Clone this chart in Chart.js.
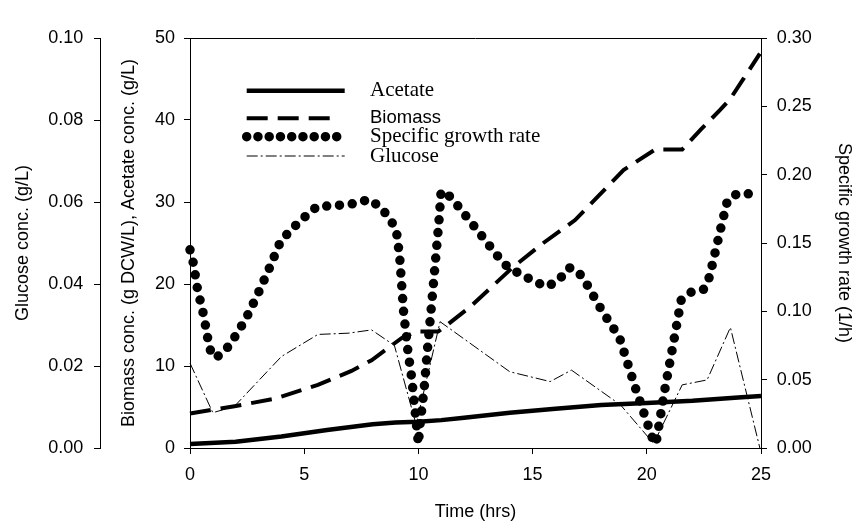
<!DOCTYPE html>
<html>
<head>
<meta charset="utf-8">
<script src="https://cdn.jsdelivr.net/npm/chart.js@4.4.1/dist/chart.umd.min.js"></script>
<style>
  html, body { margin: 0; padding: 0; background: #fff; }
  #wrap { width: 855px; height: 523px; }
</style>
</head>
<body>
<div id="wrap"><canvas id="chart" width="855" height="523"></canvas></div>
<script>
// Values (time in hours)
const acetateTime = [0, 2, 4, 6, 8, 9, 10, 11, 12, 14, 16, 18, 20, 22, 24, 25];
const acetateConc = [0.5, 0.75, 1.4, 2.2, 2.9, 3.1, 3.2, 3.4, 3.7, 4.3, 4.8, 5.25, 5.5, 5.75, 6.15, 6.35];

const biomassTime = [0, 0.85, 1.95, 3.7, 5.6, 7.07, 7.95, 9.26, 9.92, 10.86, 11.25, 12.26, 14.16, 15.47, 16.86, 17.8, 18.98, 20.37, 21.55, 22.35, 23.2, 23.66, 24.25, 24.95];
const biomassConc = [4.2, 4.6, 5.1, 6.0, 7.7, 9.4, 10.7, 13.4, 14.2, 14.2, 15.0, 17.2, 22.1, 25.0, 27.8, 30.5, 33.9, 36.4, 36.4, 38.8, 41.2, 42.6, 45.1, 48.1];

const growthTime = [0, 0.15, 0.33, 0.6, 0.8, 0.93, 1.15, 1.73, 2.43, 2.98, 3.46, 3.96, 4.44, 5.02, 5.58, 6.15, 7.29, 7.83, 8.36, 8.82, 9.05, 9.18, 9.35, 9.54, 9.7, 9.85, 10.0, 10.06, 10.25, 10.39, 10.55, 10.7, 10.8, 10.9, 10.99, 11.16, 11.64, 12.55, 13.44, 13.93, 14.5, 15.07, 15.6, 16.1, 16.6, 17.0, 17.4, 18.05, 18.8, 19.5, 20.29, 20.4, 20.77, 21.2, 21.5, 21.94, 22.48, 22.74, 23.27, 23.53, 23.95, 24.54];
const growthRate = [0.145, 0.135, 0.116, 0.097, 0.078, 0.069, 0.066, 0.075, 0.094, 0.113, 0.131, 0.151, 0.160, 0.169, 0.177, 0.177, 0.179, 0.182, 0.176, 0.166, 0.157, 0.140, 0.100, 0.071, 0.052, 0.028, 0.003, 0.0156, 0.043, 0.071, 0.100, 0.128, 0.147, 0.166, 0.187, 0.188, 0.179, 0.160, 0.141, 0.132, 0.127, 0.122, 0.118, 0.122, 0.132, 0.129, 0.119, 0.100, 0.081, 0.044, 0.005, 0.003, 0.041, 0.080, 0.108, 0.114, 0.116, 0.125, 0.163, 0.181, 0.186, 0.186];

const glucoseTime = [0, 1.0, 1.95, 4.0, 5.6, 6.92, 7.95, 8.95, 9.9, 10.95, 14.0, 15.77, 16.7, 18.85, 20.3, 21.55, 22.64, 23.66, 24.95];
const glucoseConc = [0.0207, 0.0086, 0.0102, 0.0223, 0.0277, 0.028, 0.0288, 0.025, 0.0057, 0.0308, 0.0186, 0.0162, 0.019, 0.0105, 0.0011, 0.0154, 0.0166, 0.0294, 0];

const xTicks = [0, 5, 10, 15, 20, 25];

const pts = (xs, ys) => xs.map((x, i) => ({ x: x, y: ys[i] }));

const sans = '"Liberation Sans", Arial, sans-serif';
const serif = '"Liberation Serif", "Times New Roman", serif';
const tickFont = { family: sans, size: 18 };
const titleFont = { family: sans, size: 18, lineHeight: 0.8 };

// legend drawn inside the plot, rows spaced like the original
const legendPlugin = {
    id: 'sketchLegend',
    afterDatasetsDraw(chart, args, opts) {
        const { ctx, chartArea } = chart;
        const x0 = chartArea.left + opts.left;
        opts.rows.forEach(row => {
            const ds = chart.data.datasets[row.index];
            const y = chartArea.top + row.top;
            ctx.save();
            ctx.strokeStyle = ds.borderColor;
            ctx.lineWidth = ds.borderWidth;
            ctx.lineCap = ds.borderCapStyle || 'butt';
            ctx.setLineDash(row.dash || ds.borderDash || []);
            ctx.beginPath();
            ctx.moveTo(x0, y);
            ctx.lineTo(x0 + row.length, y);
            ctx.stroke();
            ctx.setLineDash([]);
            ctx.fillStyle = '#000';
            ctx.font = row.font;
            ctx.textBaseline = 'middle';
            ctx.fillText(ds.label, chartArea.left + opts.textLeft, y);
            ctx.restore();
        });
    }
};

// top edge of the plot frame
const framePlugin = {
    id: 'topFrame',
    afterDraw(chart) {
        const { ctx, chartArea } = chart;
        ctx.save();
        ctx.strokeStyle = '#000';
        ctx.lineWidth = 1;
        ctx.beginPath();
        ctx.moveTo(chartArea.left, chartArea.top + 0.5);
        ctx.lineTo(chartArea.right, chartArea.top + 0.5);
        ctx.stroke();
        ctx.restore();
    }
};

const axisGrid = { drawOnChartArea: false, drawTicks: true, tickLength: 6, color: '#000' };
const axisBorder = { display: true, color: '#000', width: 1 };

new Chart(document.getElementById('chart'), {
    type: 'line',
    data: {
        datasets: [{
            label: 'Acetate',
            data: pts(acetateTime, acetateConc),
            yAxisID: 'y',
            borderColor: '#000',
            borderWidth: 4.5,
            borderJoinStyle: 'round',
            pointRadius: 0,
            tension: 0
        }, {
            label: 'Biomass',
            data: pts(biomassTime, biomassConc),
            yAxisID: 'y',
            borderColor: '#000',
            borderWidth: 4,
            borderDash: [21, 10],
            pointRadius: 0,
            tension: 0
        }, {
            label: 'Specific growth rate',
            data: pts(growthTime, growthRate),
            yAxisID: 'yR',
            borderColor: '#000',
            borderWidth: 9.5,
            borderCapStyle: 'round',
            borderDash: [0, 12.8],
            pointRadius: 0,
            tension: 0
        }, {
            label: 'Glucose',
            data: pts(glucoseTime, glucoseConc),
            yAxisID: 'yG',
            borderColor: '#000',
            borderWidth: 1,
            borderDash: [11, 3, 2, 3],
            pointRadius: 0,
            tension: 0
        }]
    },
    options: {
        responsive: false,
        animation: false,
        clip: 10,
        layout: { padding: { top: 38, left: 0, right: 0, bottom: 0 } },
        plugins: {
            legend: { display: false },
            tooltip: { enabled: false },
            sketchLegend: {
                left: 56.7,
                textLeft: 180,
                rows: [
                    { index: 0, top: 52.7, length: 98, font: '21px ' + serif },
                    { index: 1, top: 80.3, length: 87, font: '18.5px ' + sans },
                    { index: 2, top: 98.7, length: 91, dash: [0, 11.25], font: '21px ' + serif },
                    { index: 3, top: 118, length: 98, font: '21px ' + serif }
                ]
            }
        },
        scales: {
            x: {
                type: 'linear',
                min: 0,
                max: 25,
                afterBuildTicks: s => { s.ticks = xTicks.map(v => ({ value: v })); },
                ticks: { font: tickFont, color: '#000', padding: 10 },
                grid: axisGrid,
                border: axisBorder,
                title: { display: true, text: 'Time (hrs)', font: titleFont, color: '#000', padding: { top: 0, bottom: 3.5 } },
                afterFit: s => { s.height = 75; }
            },
            y: {
                position: 'left',
                weight: 0,
                min: 0,
                max: 50,
                ticks: { stepSize: 10, font: tickFont, color: '#000', padding: 9, callback: v => v },
                grid: axisGrid,
                border: axisBorder,
                title: { display: true, text: 'Biomass conc. (g DCW/L), Acetate conc. (g/L)', font: titleFont, color: '#000', padding: { top: 22, bottom: 0 } },
                afterFit: s => { s.width = 90; }
            },
            yG: {
                position: 'left',
                weight: 1,
                min: 0,
                max: 0.1,
                ticks: { stepSize: 0.02, font: tickFont, color: '#000', padding: 10.7, callback: v => v.toFixed(2) },
                grid: axisGrid,
                border: axisBorder,
                title: { display: true, text: 'Glucose conc. (g/L)', font: titleFont, color: '#000', padding: { top: 16, bottom: 0 } },
                afterFit: s => { s.width = 100; }
            },
            yR: {
                position: 'right',
                min: 0,
                max: 0.3,
                ticks: { stepSize: 0.05, font: tickFont, color: '#000', padding: 9.7, callback: v => v.toFixed(2) },
                grid: axisGrid,
                border: axisBorder,
                title: { display: true, text: 'Specific growth rate (1/h)', font: titleFont, color: '#000', padding: { top: 4, bottom: 0 } },
                afterFit: s => { s.width = 94; }
            }
        }
    },
    plugins: [legendPlugin, framePlugin]
});
</script>
</body>
</html>
